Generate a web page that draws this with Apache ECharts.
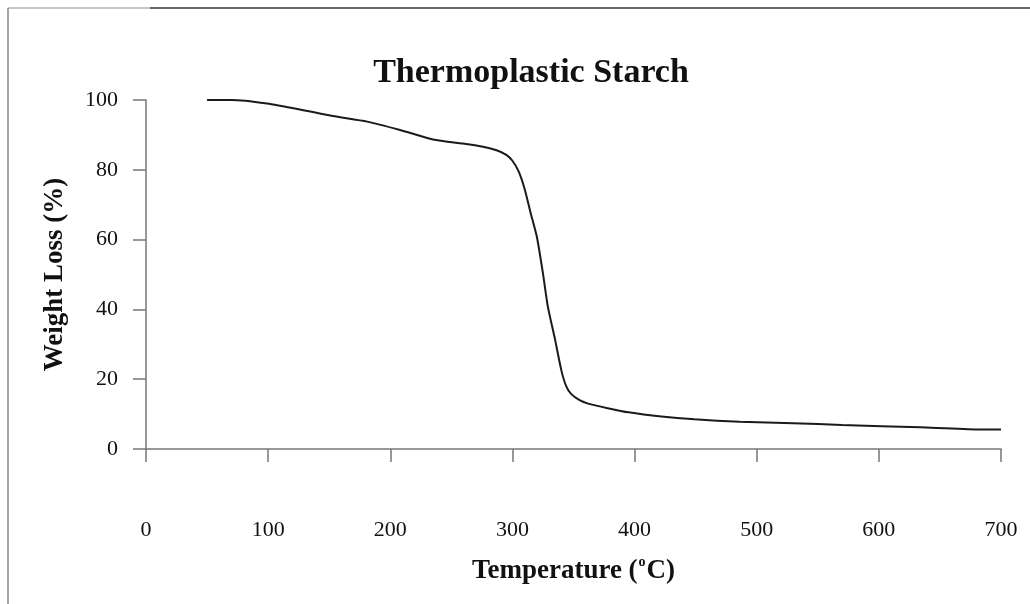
<!DOCTYPE html>
<html>
<head>
<meta charset="utf-8">
<title>Thermoplastic Starch</title>
<script src="https://cdn.jsdelivr.net/npm/echarts@6/dist/echarts.min.js"></script>
<style>
  html, body { margin: 0; padding: 0; background: #fff; }
  #chart { width: 1030px; height: 604px; }
</style>
</head>
<body>
<div id="chart"></div>
<script>
// TGA curve
const temperature = [50, 70, 99, 126, 153, 181, 208, 235, 262, 276, 287, 295, 300, 305, 310, 315, 320, 325, 329, 335, 340, 344, 348, 355, 362, 378, 395, 422, 449, 486, 530, 570, 634, 681, 700];
const weightLoss = [100, 100, 99, 97.3, 95.4, 93.8, 91.4, 88.7, 87.4, 86.6, 85.6, 84.3, 82.6, 79.6, 74.5, 67.5, 60.8, 50.3, 40.8, 31.2, 22.6, 18, 15.8, 14, 13, 11.7, 10.5, 9.3, 8.5, 7.8, 7.4, 6.9, 6.2, 5.6, 5.6];
const xTicks = [0, 700, 100];   // min, max, step
const yTicks = [0, 100, 20];

const serif = '"Liberation Serif", "Times New Roman", serif';

const myChart = echarts.init(document.getElementById('chart'), null, { renderer: 'canvas' });

const option = {
  backgroundColor: '#fff',
  animation: false,
  title: {
    text: 'Thermoplastic Starch',
    left: 526,
    textAlign: 'center',
    top: 51,
    textStyle: { fontFamily: serif, fontWeight: 'bold', fontSize: 34, color: '#111' }
  },
  grid: { left: 146, right: 29, top: 100, bottom: 155 },
  graphic: [
    { type: 'line', shape: { x1: 8, y1: 8, x2: 150, y2: 8 }, style: { stroke: '#b0b0b0', lineWidth: 1.5 } },
    { type: 'line', shape: { x1: 150, y1: 8, x2: 1030, y2: 8 }, style: { stroke: '#333', lineWidth: 1.5 } },
    { type: 'line', shape: { x1: 8, y1: 8, x2: 8, y2: 604 }, style: { stroke: '#888', lineWidth: 1.5 } }
  ],
  xAxis: {
    type: 'value',
    min: xTicks[0],
    max: xTicks[1],
    interval: xTicks[2],
    name: '{t|Temperature (}{s|o}{t|C)}',
    nameLocation: 'middle',
    nameGap: 106,
    nameTextStyle: {
      rich: {
        t: { fontFamily: serif, fontWeight: 'bold', fontSize: 27, color: '#111' },
        s: { fontFamily: serif, fontWeight: 'bold', fontSize: 14, color: '#111', verticalAlign: 'top', padding: [0, 1, 18, 1] }
      }
    },
    axisLine: { lineStyle: { color: '#777', width: 1.5 } },
    axisTick: { inside: false, length: 13, lineStyle: { color: '#777', width: 1.5 } },
    axisLabel: { margin: 70, fontFamily: serif, fontSize: 22, color: '#111' },
    splitLine: { show: false }
  },
  yAxis: {
    type: 'value',
    min: yTicks[0],
    max: yTicks[1],
    interval: yTicks[2],
    name: 'Weight Loss (%)',
    nameLocation: 'middle',
    nameGap: 77,
    nameTextStyle: { fontFamily: serif, fontWeight: 'bold', fontSize: 27, color: '#111' },
    axisLine: { show: true, lineStyle: { color: '#777', width: 1.5 } },
    axisTick: { show: true, inside: false, length: 13, lineStyle: { color: '#777', width: 1.5 } },
    axisLabel: { margin: 28, fontFamily: serif, fontSize: 22, color: '#111' },
    splitLine: { show: false }
  },
  series: [
    {
      type: 'line',
      data: temperature.map((t, i) => [t, weightLoss[i]]),
      showSymbol: false,
      smooth: 0.2,
      lineStyle: { color: '#1a1a1a', width: 2 }
    }
  ]
};

myChart.setOption(option);
window.onresize = function () {
  myChart.resize();
};
</script>
</body>
</html>
